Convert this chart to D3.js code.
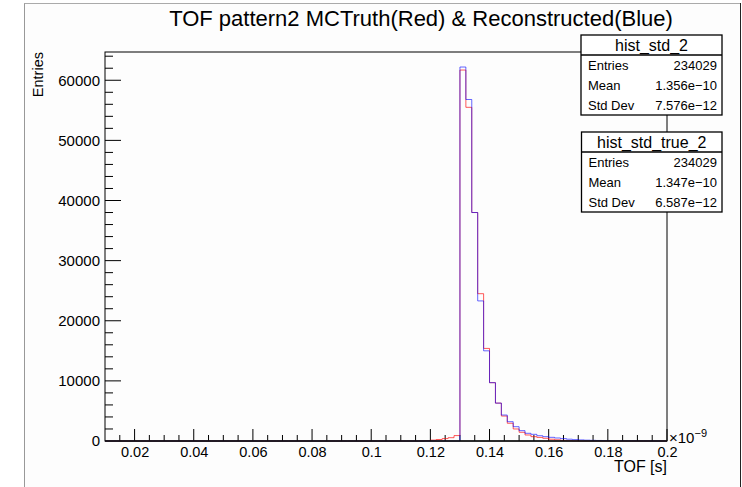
<!DOCTYPE html>
<html><head><meta charset="utf-8">
<script src="https://cdn.jsdelivr.net/npm/d3@7"></script>
<style>body{margin:0;background:#fff}svg{display:block}text{font-family:"Liberation Sans",Arial,Helvetica,sans-serif}</style>
</head><body>
<script>
// Histogram: bin width 0.002 (x1e-9 s), range 0.01 - 0.2
const binWidth = 0.002;
const firstBin = 0.116; // bins before this are empty
const truthValues = [0, 50, 150, 250, 400, 550, 900, 61700, 55500, 38000, 24500, 15400, 9700, 6300, 4150, 2950, 2000, 1450, 1000, 720, 600, 450, 300, 200, 100, 50, 20, 0, 0, 0, 0, 0, 0, 0, 0, 0, 0, 0, 0, 0, 0, 0];
const recoValues = [0, 0, 0, 0, 0, 0, 0, 62200, 56800, 38000, 23300, 15000, 9700, 6300, 4320, 3210, 2380, 1720, 1280, 1110, 880, 720, 610, 500, 400, 300, 230, 180, 140, 110, 90, 70, 55, 45, 35, 30, 25, 20, 15, 12, 10, 8];
const xTicks = [0.02, 0.04, 0.06, 0.08, 0.1, 0.12, 0.14, 0.16, 0.18, 0.2];
const yTicks = [0, 10000, 20000, 30000, 40000, 50000, 60000];
const statsReco = [["Entries", "234029"], ["Mean", "1.356e\u221210"], ["Std Dev", "7.576e\u221212"]];
const statsTruth = [["Entries", "234029"], ["Mean", "1.347e\u221210"], ["Std Dev", "6.587e\u221212"]];

const W = 742, H = 487;
const svg = d3.select("body").append("svg").attr("width", W).attr("height", H);
// canvas frame
svg.append("line").attr("x1", 24.5).attr("x2", 24.5).attr("y1", 3).attr("y2", H).attr("stroke", "#999");
svg.append("line").attr("x1", 24.5).attr("x2", 740).attr("y1", 3.5).attr("y2", 3.5).attr("stroke", "#aaa");
svg.append("line").attr("x1", 740.5).attr("x2", 740.5).attr("y1", 3).attr("y2", H).attr("stroke", "#222");
svg.append("rect").attr("x", 25).attr("y", 4).attr("width", 715).attr("height", H - 4).attr("fill", "#fdfdfd");

const L = 105, R = 667, T = 52, B = 441;
const x = d3.scaleLinear().domain([0.01, 0.2]).range([L, R]);
const y = d3.scaleLinear().domain([0, 64700]).range([B, T]);

function fullBins(vals) {
  const out = [];
  const n = Math.round((0.2 - 0.01) / binWidth);
  for (let i = 0; i < n; i++) {
    const lo = 0.01 + i * binWidth;
    const k = Math.round((lo - firstBin) / binWidth);
    const v = (k >= 0 && k < vals.length) ? vals[k] : 0;
    out.push({lo, hi: lo + binWidth, v});
  }
  return out;
}
function stepPath(bins) {
  let d = "M" + x(bins[0].lo) + "," + y(0);
  bins.forEach(b => { d += "L" + x(b.lo) + "," + y(b.v) + "L" + x(b.hi) + "," + y(b.v); });
  d += "L" + x(bins[bins.length - 1].hi) + "," + y(0);
  return d;
}

// ticks
const g = svg.append("g");
const xMinor = d3.range(0.015, 0.2001, 0.005);
xMinor.forEach(t => {
  const major = xTicks.some(m => Math.abs(m - t) < 1e-9);
  g.append("line").attr("x1", x(t)).attr("x2", x(t)).attr("y1", B).attr("y2", B - (major ? 12 : 6)).attr("stroke", "#000");
});
d3.range(2000, 64001, 2000).forEach(t => {
  const major = t % 10000 === 0;
  g.append("line").attr("x1", L).attr("x2", L + (major ? 16 : 8)).attr("y1", y(t)).attr("y2", y(t)).attr("stroke", "#000");
});
// tick labels via axes (no lines)
const xAxis = d3.axisBottom(x).tickValues(xTicks).tickSize(0).tickPadding(6).tickFormat(d => d3.format("~g")(d));
const xa = svg.append("g").attr("transform", `translate(0,${B})`).call(xAxis);
xa.select(".domain").remove();
xa.selectAll("text").attr("font-size", 14.5).attr("fill", "#000").attr("font-family", "Liberation Sans, Arial, sans-serif");
const yAxis = d3.axisLeft(y).tickValues(yTicks).tickSize(0).tickPadding(5).tickFormat(d3.format("d"));
const ya = svg.append("g").attr("transform", `translate(${L},0)`).call(yAxis);
ya.select(".domain").remove();
ya.selectAll("text").attr("font-size", 15).attr("fill", "#000").attr("font-family", "Liberation Sans, Arial, sans-serif");

// histograms
svg.append("path").attr("d", stepPath(fullBins(truthValues))).attr("fill", "none").attr("stroke", "rgba(255,0,0,0.65)").attr("stroke-width", 1);
svg.append("path").attr("d", stepPath(fullBins(recoValues))).attr("fill", "none").attr("stroke", "rgba(0,0,255,0.6)").attr("stroke-width", 1);

// frame
svg.append("rect").attr("x", L).attr("y", T).attr("width", R - L).attr("height", B - T).attr("fill", "none").attr("stroke", "#000").attr("stroke-width", 1);
svg.append("line").attr("x1", L).attr("x2", R).attr("y1", B).attr("y2", B).attr("stroke", "#111").attr("stroke-width", 1.5);

// titles
svg.append("text").attr("x", 421).attr("y", 26).attr("text-anchor", "middle").attr("font-size", 22).text("TOF pattern2 MCTruth(Red) & Reconstructed(Blue)");
svg.append("text").attr("transform", `translate(43,${T}) rotate(-90)`).attr("text-anchor", "end").attr("font-size", 14.5).text("Entries");
svg.append("text").attr("x", R).attr("y", 472).attr("text-anchor", "end").attr("font-size", 16).text("TOF [s]");
const ex = svg.append("text").attr("x", R + 2).attr("y", 443).attr("font-size", 15);
ex.append("tspan").text("\u00d710");
ex.append("tspan").attr("dy", -6).attr("font-size", 11).text("\u22129");

// stats boxes
function statsBox(x0, y0, w, title, rows) {
  const gb = svg.append("g");
  const hh = 20, rh = 20;
  const h = hh + rows.length * rh;
  gb.append("rect").attr("x", x0).attr("y", y0).attr("width", w).attr("height", h).attr("fill", "#fff").attr("stroke", "#000").attr("stroke-width", 1.3);
  gb.append("line").attr("x1", x0).attr("x2", x0 + w).attr("y1", y0 + hh).attr("y2", y0 + hh).attr("stroke", "#000").attr("stroke-width", 1.3);
  gb.append("text").attr("x", x0 + w / 2).attr("y", y0 + 16).attr("text-anchor", "middle").attr("font-size", 16).text(title);
  rows.forEach((r, i) => {
    const yy = y0 + hh + i * rh + 15;
    gb.append("text").attr("x", x0 + 7).attr("y", yy).attr("font-size", 13).text(r[0]);
    gb.append("text").attr("x", x0 + w - 5).attr("y", yy).attr("text-anchor", "end").attr("font-size", 13).text(r[1]);
  });
}
statsBox(581, 35, 141, "hist_std_2", statsReco);
statsBox(581.5, 132, 140.5, "hist_std_true_2", statsTruth);
</script>
</body></html>
